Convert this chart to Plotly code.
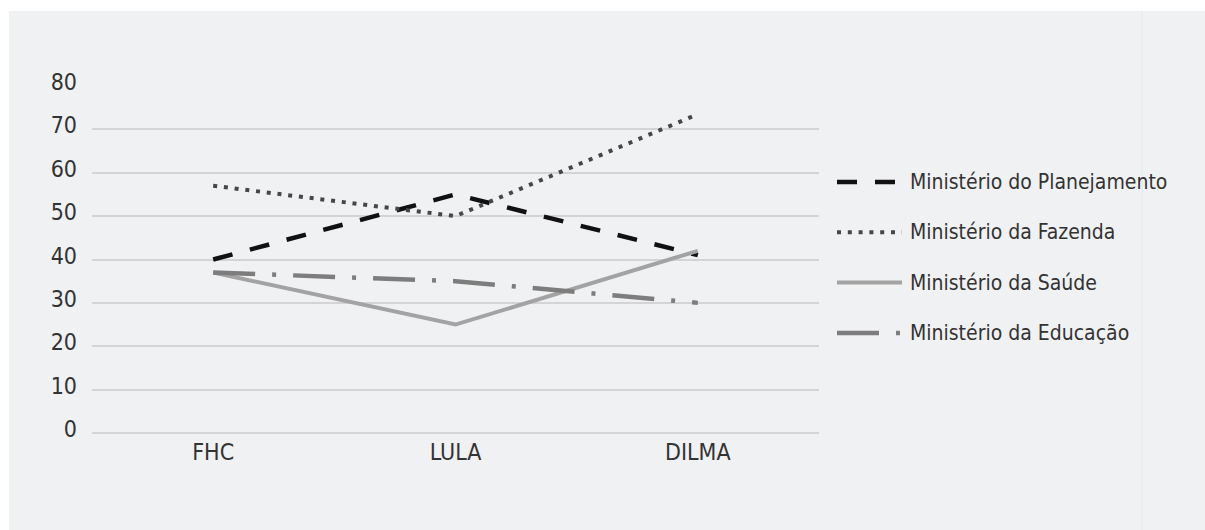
import plotly.graph_objects as go

# Governos e ministérios
governos = ["FHC", "LULA", "DILMA"]
series_nomes = [
    "Ministério do Planejamento",
    "Ministério da Fazenda",
    "Ministério da Saúde",
    "Ministério da Educação",
]
planejamento = [40, 55, 41]
fazenda = [57, 50, 73.5]
saude = [37, 25, 42]
educacao = [37, 35, 30]
y_ticks = [0, 10, 20, 30, 40, 50, 60, 70, 80]

valores = [planejamento, fazenda, saude, educacao]
estilos = [
    dict(color="#111111", width=4.5, dash="20px,18px"),
    dict(color="#474747", width=4, dash="4px,6.8px"),
    dict(color="#a3a3a3", width=4, dash="solid"),
    dict(color="#7d7d7d", width=4.5, dash="42px,17px,4px,17px"),
]

FONT = "DejaVu Sans Condensed, Liberation Sans Narrow, sans-serif"
TXT = "#333333"

# plot area geometry in pixels (used to place the frame and the legend)
W, H = 1205, 530
ML, MR, MT, MB = 92, 386, 86, 97
PW, PH = W - ML - MR, H - MT - MB


def px_x(px):
    return (px - ML) / PW


def px_y(py):
    return (H - MB - py) / PH


fig = go.Figure()
for nome, ys, st in zip(series_nomes, valores, estilos):
    fig.add_trace(go.Scatter(x=governos, y=ys, mode="lines", name=nome,
                             line=st, showlegend=False, hoverinfo="skip"))

shapes = [
    # light gray panel behind the chart
    dict(type="rect", xref="paper", yref="paper", layer="below",
         x0=px_x(9), x1=px_x(W + 2), y0=px_y(H + 2), y1=px_y(11),
         fillcolor="#f0f1f3", line=dict(width=0)),
    dict(type="line", xref="paper", yref="paper", layer="below",
         x0=px_x(1142), x1=px_x(1142), y0=px_y(H + 2), y1=px_y(11),
         line=dict(color="#e6e7ea", width=1)),
]
annotations = []

# legend: sample line + label for each ministry
for i, (nome, st) in enumerate(zip(series_nomes, estilos)):
    py = 182 + 50.3 * i
    shapes.append(dict(type="line", xref="paper", yref="paper",
                       x0=px_x(837), x1=px_x(902), y0=px_y(py), y1=px_y(py),
                       line=st))
    annotations.append(dict(xref="paper", yref="paper", x=px_x(908), y=px_y(py),
                            text=nome, showarrow=False, xanchor="left",
                            yanchor="middle",
                            font=dict(family=FONT, size=21, color=TXT)))

fig.update_layout(
    width=W, height=H,
    margin=dict(l=ML, r=MR, t=MT, b=MB),
    paper_bgcolor="white",
    plot_bgcolor="rgba(0,0,0,0)",
    shapes=shapes,
    annotations=annotations,
    showlegend=False,
    font=dict(family=FONT, size=23, color=TXT),
    xaxis=dict(type="category", range=[-0.5, 2.5], showgrid=False,
               zeroline=False, showline=False, ticks="", ticklabelstandoff=3,
               tickfont=dict(family=FONT, size=23, color=TXT)),
    yaxis=dict(range=[0, 80], tickvals=y_ticks, showgrid=True,
               gridcolor="#d4d4d6", gridwidth=1.5, zeroline=True,
               zerolinecolor="#d4d4d6", zerolinewidth=1.5, showline=False,
               ticks="", ticklabelstandoff=14, ticklabelshift=-4,
               tickfont=dict(family=FONT, size=23, color=TXT)),
)

fig.write_html("out.html")
